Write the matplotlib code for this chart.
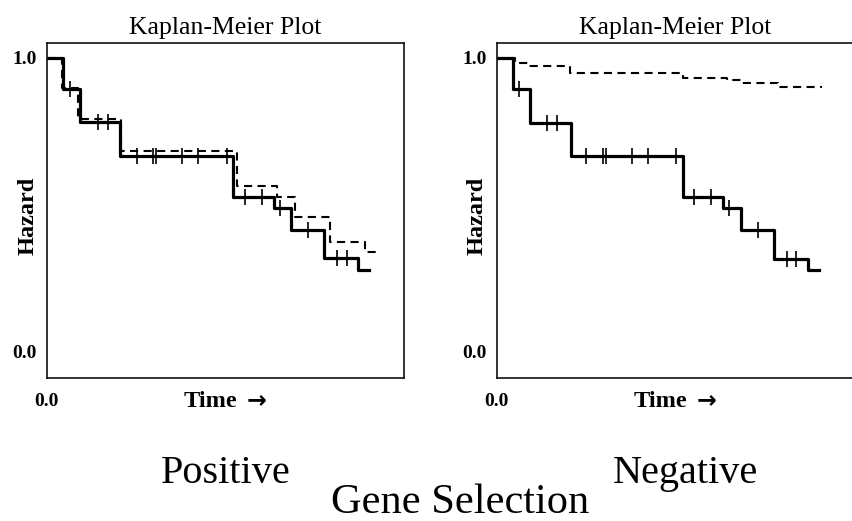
import numpy as np
import matplotlib
matplotlib.use("Agg")
import matplotlib.pyplot as plt

plt.rcParams['font.family'] = ['Liberation Serif', 'DejaVu Serif']

# ---------------- data ----------------
panel_titles = ["Kaplan-Meier Plot", "Kaplan-Meier Plot"]
group_labels = ["Positive", "Negative"]
super_label = "Gene Selection"
x_label = "Time"
x_arrow = "\u2192"
y_label = "Hazard"

# Positive panel
pos_solid_t = [4.6, 9.3, 20.5, 52.2, 63.5, 68.2, 77.6, 87.1]
pos_solid_s = [0.896, 0.781, 0.665, 0.528, 0.489, 0.415, 0.318, 0.277]
pos_solid_end = 90.2
pos_cens_t = [6.5, 14.4, 17.2, 25.2, 29.8, 30.6, 37.7, 42.4, 50.3, 55.5,
              60.1, 65.2, 73.2, 81.1, 83.9]
pos_dash_t = [4.2, 8.8, 20.7, 53.1, 64.3, 69.3, 79.2, 89.1]
pos_dash_s = [0.898, 0.793, 0.683, 0.565, 0.528, 0.459, 0.374, 0.338]
pos_dash_end = 92.3

# Negative panel
neg_solid_t = [4.5, 9.3, 20.7, 52.2, 63.4, 68.2, 77.5, 87.1]
neg_solid_s = [0.894, 0.779, 0.665, 0.528, 0.489, 0.414, 0.316, 0.278]
neg_solid_end = 90.2
neg_cens_t = [6.3, 14.1, 17.0, 25.0, 29.6, 30.6, 37.7, 42.4, 50.1, 55.2,
              59.9, 65.0, 73.2, 81.1, 83.7]
neg_dash_t = [5.1, 8.8, 20.5, 52.1, 64.4, 68.3, 78.7]
neg_dash_s = [0.983, 0.971, 0.949, 0.932, 0.926, 0.915, 0.900]
neg_dash_end = 91.0

y_tick_vals = [0.0, 1.0]
y_tick_labels = ["0.0", "1.0"]
x_tick_vals = [0.0]
x_tick_labels = ["0.0"]


def step_xy(t, s, end):
    x = [0.0] + list(t) + [end]
    y = [1.0] + list(s) + [s[-1]]
    return x, y


def surv_at(t, s, times):
    t = np.asarray(t)
    s = np.asarray([1.0] + list(s))
    idx = np.searchsorted(t, times, side='right')
    return s[idx]


fig = plt.figure(figsize=(8.53, 5.21), dpi=100)
W, H = 853, 521
ax_w = 357.6 / W
ax_h = (378 - 43.3) / H
ax_b = (H - 378) / H
axL = fig.add_axes([46.7 / W, ax_b, ax_w, ax_h])
axR = fig.add_axes([496.7 / W, ax_b, ax_w, ax_h])

panels = [
    (axL, pos_solid_t, pos_solid_s, pos_solid_end, pos_cens_t,
     pos_dash_t, pos_dash_s, pos_dash_end, -0.052),
    (axR, neg_solid_t, neg_solid_s, neg_solid_end, neg_cens_t,
     neg_dash_t, neg_dash_s, neg_dash_end, -0.055),
]

for i, (ax, st, ss, se, ct, dt, ds, de, ylx) in enumerate(panels):
    x, y = step_xy(dt, ds, de)
    ax.step(x, y, where='post', color='black', lw=1.5,
            linestyle=(0, (3.9, 2.6)))
    x, y = step_xy(st, ss, se)
    ax.step(x, y, where='post', color='black', lw=2.3)
    cy = surv_at(st, ss, np.asarray(ct))
    ax.plot(ct, cy, linestyle='none', marker='|', markersize=11,
            markeredgewidth=1.2, color='black')

    ax.set_xlim(0, 100)
    ax.set_ylim(-0.09, 1.05)
    ax.set_yticks(y_tick_vals)
    ax.set_yticklabels(y_tick_labels, fontsize=14, fontweight='bold')
    ax.set_xticks(x_tick_vals)
    ax.set_xticklabels(x_tick_labels, fontsize=14, fontweight='bold')
    ax.tick_params(axis='both', length=0)
    ax.tick_params(axis='y', pad=7)
    ax.tick_params(axis='x', pad=11)
    for sp in ax.spines.values():
        sp.set_linewidth(1.2)
        sp.set_color('#111111')

    ax.set_title(panel_titles[i], fontsize=18.5, pad=7)
    ax.set_ylabel(y_label, fontsize=17.5, fontweight='bold')
    ax.yaxis.set_label_coords(ylx, 0.484)
    ax.yaxis.label.set_va('center')
    ax.text(0.459, -0.069, x_label, transform=ax.transAxes, fontsize=17.5,
            fontweight='bold', ha='center', va='center')
    ax.text(0.588, -0.066, x_arrow, transform=ax.transAxes, fontsize=17,
            fontweight='bold', family=['DejaVu Sans'], ha='center',
            va='center')

fig.text(226 / W, (H - 483) / H, group_labels[0], fontsize=29,
         ha='center', va='baseline')
fig.text(686 / W, (H - 483) / H, group_labels[1], fontsize=29,
         ha='center', va='baseline')
fig.text(460 / W, (H - 513) / H, super_label, fontsize=30.5,
         ha='center', va='baseline')

fig.savefig("out.png", dpi=100)
